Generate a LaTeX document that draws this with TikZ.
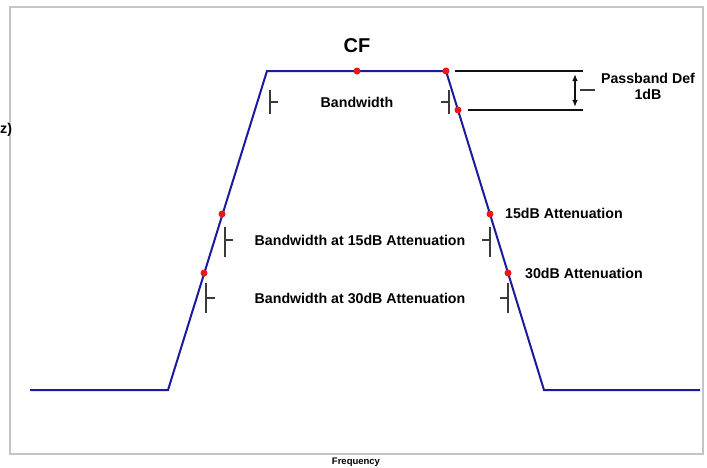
\documentclass[tikz,border=0pt]{standalone}
\usepackage{fontspec}
\setmainfont{Liberation Sans}
\usepackage{tikz}
\usetikzlibrary{arrows.meta,positioning,calc}
\definecolor{ink}{HTML}{111111}
\definecolor{tickgray}{HTML}{3A3A3A}
\definecolor{framegray}{HTML}{C4C4C4}
\definecolor{filterblue}{HTML}{1A1A9C}
\definecolor{dotred}{HTML}{F01414}
\tikzset{
  lbl/.style={font=\bfseries\fontsize{14.2}{16}\selectfont, inner sep=0pt, align=center},
  biglbl/.style={font=\bfseries\fontsize{20}{22}\selectfont, inner sep=0pt},
  smalllbl/.style={font=\bfseries\fontsize{9.5}{11}\selectfont, inner sep=0pt},
  dot/.style={circle, fill=dotred, inner sep=0pt, minimum size=7pt},
  response/.style={draw=filterblue, line width=2pt, line join=miter},
  ticker/.style={draw=tickgray, line width=1.3pt},
  refline/.style={draw=ink, line width=2.6pt},
  arrow/.style={{Latex[length=2.5mm,width=2mm]}-{Latex[length=2.5mm,width=2mm]}, line width=1.5pt, draw=ink}
}

\begin{document}
\begin{tikzpicture}[x=1pt, y=-1pt]
  \useasboundingbox (0,0) rectangle (707,467);
  \draw[framegray, line width=1.4pt] (10,7) rectangle (703,454);

  % filter shape
  \coordinate (start) at (30,390);
  \coordinate (lowl) at (168,390);
  \coordinate (topl) at (267,71);
  \coordinate (topr) at (446,71);
  \coordinate (lowr) at (544,390);
  \coordinate (stop) at (700,390);
  \draw[response] (start) -- (lowl) -- (topl) -- (topr) -- (lowr) -- (stop);

  \node[dot] (cf) at (357,71) {};
  \node[dot] (pb0) at (topr) {};
  \node[dot] (pb1) at (458,110) {};
  \node[dot] (l15) at (222,214) {};
  \node[dot] (r15) at (490,214) {};
  \node[dot] (l30) at (204,273) {};
  \node[dot] (r30) at (508,273) {};

  \node[biglbl] (cftxt) at (357,46) {CF};
  \node[smalllbl] (freq) at (356,462) {Frequency};
  \node[lbl, anchor=west] (ylab) at (0,130) {z)};

  % passband definition
  \draw[refline] (455,71) -- (583,71);
  \draw[refline] (468,110) -- (583,110);
  \draw[arrow] (575,74) -- (575,107);
  \draw[ticker] (580,90) -- (595,90);
  \node[lbl] (pbdef) at (648,86) {Passband Def\\1dB};

  % bandwidth markers
  \draw[ticker] (270,90) -- (270,114) (270,102) -- (278,102);
  \draw[ticker] (449,90) -- (449,114) (449,102) -- (441,102);
  \node[lbl] (bw) at (357,102) {Bandwidth};

  \draw[ticker] (225,227) -- (225,257) (225,240) -- (233,240);
  \draw[ticker] (490,227) -- (490,257) (490,240) -- (482,240);
  \node[lbl] (bw15) at (360,240) {Bandwidth at 15dB Attenuation};

  \draw[ticker] (206,283) -- (206,313) (206,298) -- (215,298);
  \draw[ticker] (508,283) -- (508,313) (508,298) -- (500,298);
  \node[lbl] (bw30) at (360,298) {Bandwidth at 30dB Attenuation};

  \node[lbl, anchor=west] (at15) at (505,213) {15dB Attenuation};
  \node[lbl, anchor=west] (at30) at (525,273) {30dB Attenuation};
\end{tikzpicture}
\end{document}
